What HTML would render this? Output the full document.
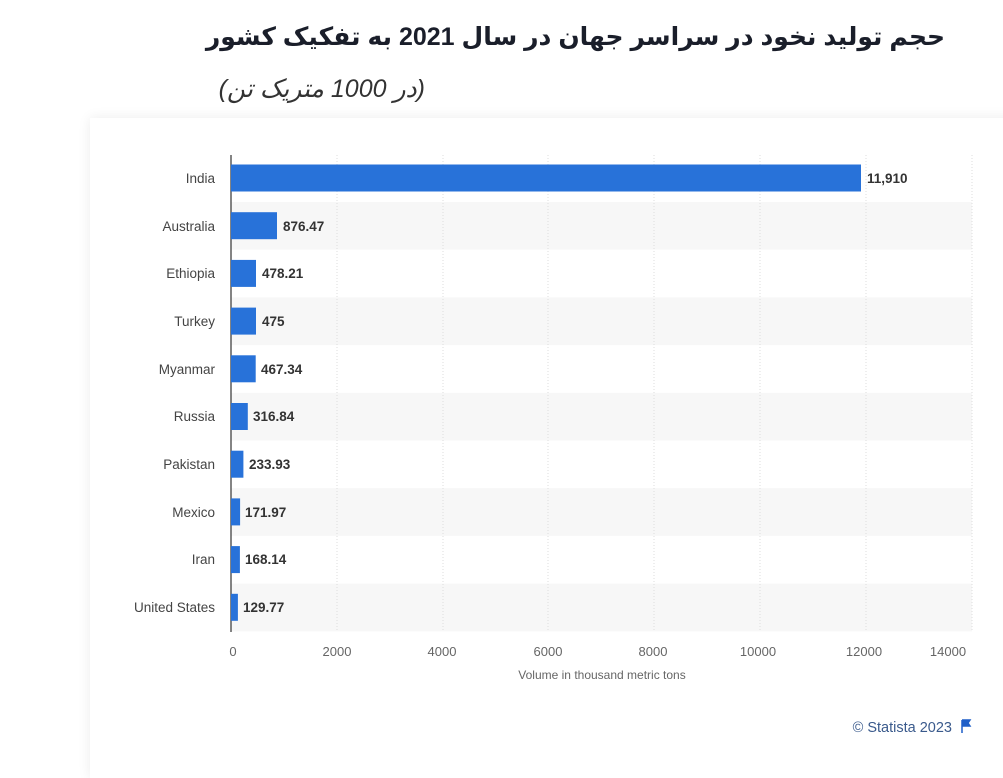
<!DOCTYPE html>
<html><head><meta charset="utf-8"><style>
body{margin:0;width:1003px;height:748px;background:#fff;overflow:hidden;position:relative;font-family:"Liberation Sans","DejaVu Sans",sans-serif}
.card{position:absolute;left:90px;top:118px;width:930px;height:660px;background:#fff;box-shadow:0 0 12px rgba(0,0,0,0.08)}
.t{position:absolute;right:58px;top:22px;font:bold 25px "Liberation Sans","DejaVu Sans",sans-serif;color:#1a1e2a;direction:rtl;white-space:nowrap}
.s{position:absolute;right:578px;top:74px;font:italic 25px "Liberation Sans","DejaVu Sans",sans-serif;color:#333;direction:rtl;white-space:nowrap}
</style></head><body>
<div class="card"></div>
<div class="t">حجم تولید نخود در سراسر جهان در سال 2021 به تفکیک کشور</div>
<div class="s">(در 1000 متریک تن)</div>
<svg width="1003" height="748" style="position:absolute;left:0;top:0" font-family="'Liberation Sans','DejaVu Sans',sans-serif">
<g fill="#f7f7f7">
<rect x="231" y="202" width="741" height="47.7"/><rect x="231" y="297.4" width="741" height="47.7"/>
<rect x="231" y="392.8" width="741" height="47.7"/><rect x="231" y="488.2" width="741" height="47.7"/>
<rect x="231" y="583.6" width="741" height="47.7"/>
</g>
<g stroke="#ddd" stroke-dasharray="1,2">
<line x1="337" y1="155" x2="337" y2="632"/><line x1="443" y1="155" x2="443" y2="632"/>
<line x1="548" y1="155" x2="548" y2="632"/><line x1="654" y1="155" x2="654" y2="632"/>
<line x1="760" y1="155" x2="760" y2="632"/><line x1="866" y1="155" x2="866" y2="632"/>
<line x1="972" y1="155" x2="972" y2="632"/>
</g>
<line x1="231" y1="155" x2="231" y2="632" stroke="#333" stroke-width="1.2"/>
<g fill="#2872d9">
<rect x="231" y="164.5" width="630" height="27"/><rect x="231" y="212.2" width="46" height="27"/>
<rect x="231" y="259.9" width="25" height="27"/><rect x="231" y="307.6" width="25" height="27"/>
<rect x="231" y="355.3" width="24.7" height="27"/><rect x="231" y="403" width="16.8" height="27"/>
<rect x="231" y="450.7" width="12.4" height="27"/><rect x="231" y="498.4" width="9.1" height="27"/>
<rect x="231" y="546.1" width="8.9" height="27"/><rect x="231" y="593.8" width="6.9" height="27"/>
</g>
<g font-size="13.5" fill="#444" text-anchor="end">
<text x="215" y="183">India</text><text x="215" y="231">Australia</text><text x="215" y="278">Ethiopia</text>
<text x="215" y="326">Turkey</text><text x="215" y="374">Myanmar</text><text x="215" y="421">Russia</text>
<text x="215" y="469">Pakistan</text><text x="215" y="517">Mexico</text><text x="215" y="564">Iran</text>
<text x="215" y="612">United States</text>
</g>
<g font-size="13.5" font-weight="bold" fill="#333">
<text x="867" y="183">11,910</text><text x="283" y="231">876.47</text><text x="262" y="278">478.21</text>
<text x="262" y="326">475</text><text x="261" y="374">467.34</text><text x="253" y="421">316.84</text>
<text x="249" y="469">233.93</text><text x="245" y="517">171.97</text><text x="245" y="564">168.14</text>
<text x="243" y="612">129.77</text>
</g>
<g font-size="13" fill="#666" text-anchor="middle">
<text x="233" y="656">0</text><text x="337" y="656">2000</text><text x="442" y="656">4000</text>
<text x="548" y="656">6000</text><text x="653" y="656">8000</text><text x="758" y="656">10000</text>
<text x="864" y="656">12000</text><text x="948" y="656">14000</text>
<text x="602" y="679" font-size="12">Volume in thousand metric tons</text>
</g>
<text x="952" y="732" font-size="14.5" fill="#3a5a8c" text-anchor="end">© Statista 2023</text>
<path d="M962 720v13M962 720h8l-2 3 2 3h-8" fill="#1f5fc8" stroke="#1f5fc8" stroke-width="1.5"/>
</svg>
</body></html>
